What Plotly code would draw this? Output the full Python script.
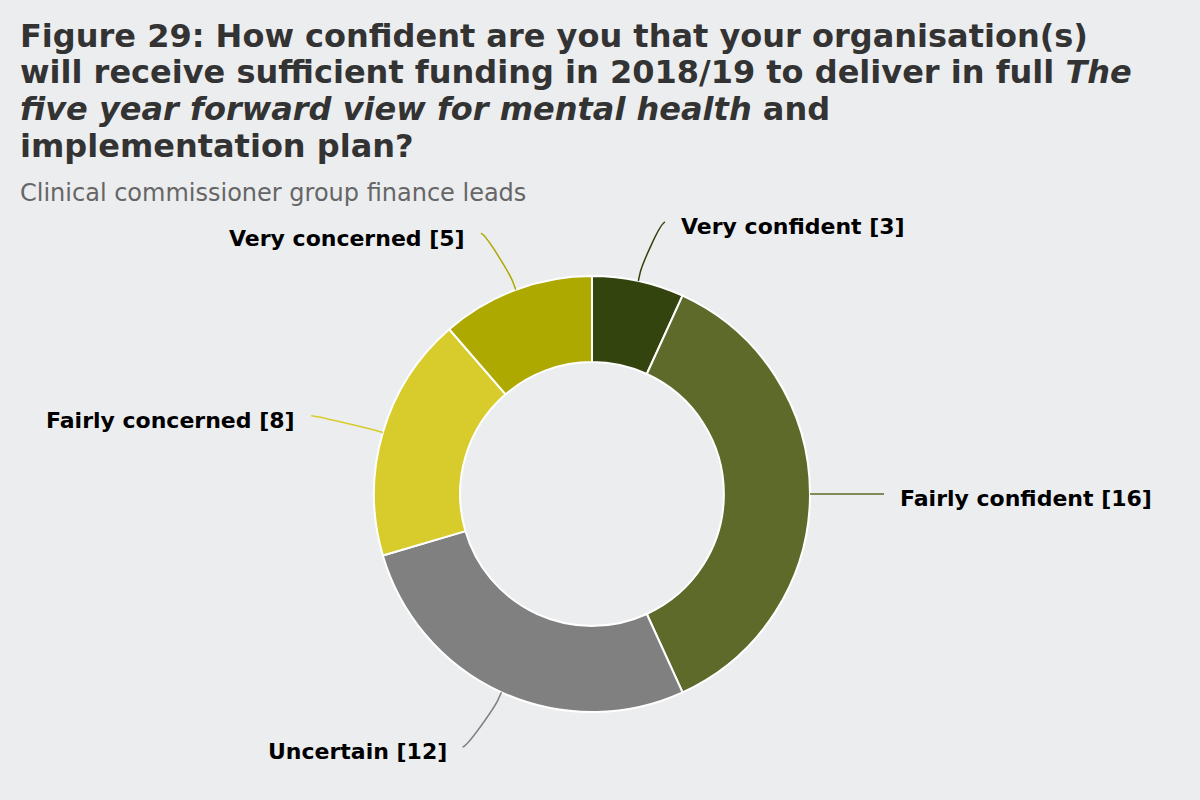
import math
import plotly.graph_objects as go

# ---- data ----
categories = ["Very confident", "Fairly confident", "Uncertain", "Fairly concerned", "Very concerned"]
values = [3, 16, 12, 8, 5]
colors = ["#33440E", "#5D6A2A", "#808080", "#D7CC2C", "#ADA900"]

title_lines = [
    "Figure 29: How confident are you that your organisation(s)",
    "will receive sufficient funding in 2018/19 to deliver in full <i>The</i>",
    "<i>five year forward view for mental health</i> and",
    "implementation plan?",
]
subtitle_text = "Clinical commissioner group finance leads"

W, H = 1200, 800
BG = "#ECEDEF"
FONT = "DejaVu Sans"

# pie geometry (pixels)
CX, CY, R = 592, 494, 218
HOLE = 0.605
LABEL_R = 278
LABEL_DX = 9

fig = go.Figure()
fig.add_trace(go.Pie(
    labels=categories, values=values, sort=False, direction="clockwise", rotation=0,
    hole=HOLE, textinfo="none", showlegend=False,
    marker=dict(colors=colors, line=dict(color="white", width=2)),
    domain=dict(x=[(CX - R) / W, (CX + R) / W], y=[(H - CY - R) / H, (H - CY + R) / H]),
))

shapes = []
annotations = []
total = sum(values)
cum = 0
for name, v, col in zip(categories, values, colors):
    mid = (cum + v / 2) / total * 2 * math.pi
    cum += v
    dx, dy = math.sin(mid), -math.cos(mid)
    s = 1 if dx >= -1e-9 else -1
    ex, ey = CX + R * dx, CY + R * dy
    bx, by = CX + (R + 8) * dx, CY + (R + 8) * dy
    c2x, c2y = 2 * bx - ex, 2 * by - ey
    ax, ay = CX + LABEL_R * dx + s * LABEL_DX, CY + LABEL_R * dy
    path = (f"M {ax + s * 5:.2f},{ay:.2f} C {ax:.2f},{ay:.2f} {c2x:.2f},{c2y:.2f} {bx:.2f},{by:.2f} "
            f"L {ex:.2f},{ey:.2f}")
    shapes.append(dict(type="path", path=path, xref="x", yref="y",
                       line=dict(color=col, width=1.5)))
    annotations.append(dict(
        x=ax + s * 19, y=ay + 4.5, xref="x", yref="y", showarrow=False,
        xanchor="left" if s > 0 else "right", yanchor="middle",
        text=f"<b>{name} [{v}]</b>", font=dict(family=FONT, size=22, color="#000000")))

for i, line in enumerate(title_lines):
    annotations.append(dict(
        x=18, y=35.5 + i * 36.9, xref="x", yref="y", xanchor="left", yanchor="middle",
        align="left", showarrow=False, text=f"<b>{line}</b>",
        font=dict(family=FONT, size=32, color="#333333")))
annotations.append(dict(
    x=18, y=192.5, xref="x", yref="y", xanchor="left", yanchor="middle", align="left",
    showarrow=False, text=subtitle_text,
    font=dict(family=FONT, size=24, color="#666666")))

fig.update_layout(
    width=W, height=H, margin=dict(l=0, r=0, t=0, b=0),
    paper_bgcolor=BG, plot_bgcolor=BG,
    xaxis=dict(range=[0, W], visible=False, fixedrange=True),
    yaxis=dict(range=[H, 0], visible=False, fixedrange=True),
    shapes=shapes, annotations=annotations,
)
fig.write_html("out.html", config={"displayModeBar": False},
               post_script="document.body.style.margin='0';document.body.style.overflow='hidden';")
